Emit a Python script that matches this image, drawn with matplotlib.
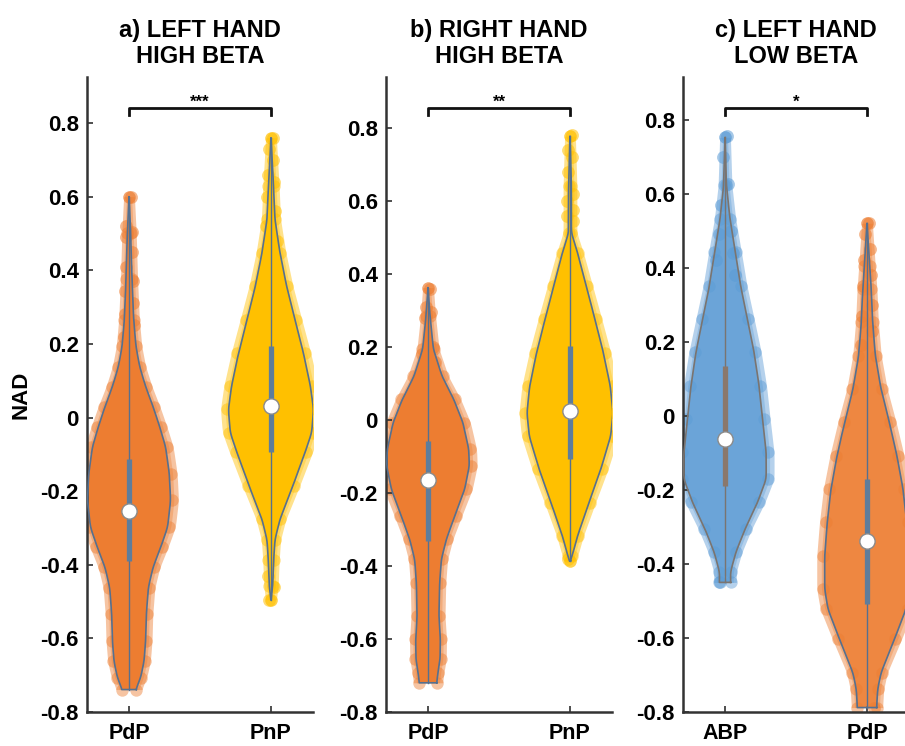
import numpy as np
import matplotlib
matplotlib.use("Agg")
import matplotlib.pyplot as plt
from matplotlib.transforms import blended_transform_factory

plt.rcParams['font.family'] = ['Liberation Sans', 'DejaVu Sans']
plt.rcParams['font.weight'] = 'bold'

# ---------------- data ----------------
titles = ["a) LEFT HAND\nHIGH BETA", "b) RIGHT HAND\nHIGH BETA", "c) LEFT HAND\nLOW BETA"]
group_labels = [["PdP", "PnP"], ["PdP", "PnP"], ["ABP", "PdP"]]
significance = ["***", "**", "*"]
y_label = "NAD"
y_ticks = [-0.8, -0.6, -0.4, -0.2, 0.0, 0.2, 0.4, 0.6, 0.8]
y_tick_labels = ["-0.8", "-0.6", "-0.4", "-0.2", "0", "0.2", "0.4", "0.6", "0.8"]
y_top = [0.925, 0.94, 0.915]

# violin outlines: NAD level -> half width (density profile)
a_pdp_levels = [-0.739, -0.707, -0.662, -0.607, -0.535, -0.462, -0.407, -0.353, -0.298, -0.225,
                -0.153, -0.08, -0.025, 0.029, 0.084, 0.138, 0.193, 0.265, 0.375, 0.50, 0.60]
a_pdp_width = [0.047, 0.082, 0.106, 0.117, 0.122, 0.136, 0.169, 0.223, 0.272, 0.293,
               0.284, 0.258, 0.216, 0.17, 0.117, 0.075, 0.049, 0.033, 0.021, 0.012, 0.0]
a_pdp_stats = [-0.39, -0.255, -0.112]          # q1, median, q3
a_pdp_tail = [0.60, 0.52, 0.505, 0.49, 0.45, 0.41, 0.37, 0.345, 0.31, 0.28, 0.25, 0.22]

a_pnp_levels = [-0.495, -0.458, -0.386, -0.332, -0.277, -0.187, -0.095, -0.041, 0.022, 0.085,
                0.176, 0.266, 0.357, 0.448, 0.538, 0.629, 0.76]
a_pnp_width = [0.0, 0.012, 0.019, 0.028, 0.063, 0.153, 0.24, 0.287, 0.30, 0.278,
               0.228, 0.169, 0.11, 0.063, 0.028, 0.018, 0.0]
a_pnp_stats = [-0.095, 0.031, 0.194]
a_pnp_tail = [0.76, 0.73, 0.70, 0.66, 0.64, 0.60, 0.56, 0.52, 0.48, -0.43, -0.46, -0.495]

b_pdp_levels = [-0.72, -0.692, -0.656, -0.60, -0.537, -0.446, -0.382, -0.327, -0.263, -0.19,
                -0.126, -0.08, -0.007, 0.057, 0.12, 0.194, 0.285, 0.363]
b_pdp_width = [0.061, 0.07, 0.085, 0.087, 0.077, 0.082, 0.094, 0.129, 0.188, 0.258,
               0.291, 0.287, 0.246, 0.181, 0.099, 0.038, 0.014, 0.0]
b_pdp_stats = [-0.331, -0.165, -0.057]
b_pdp_tail = [0.36, 0.31, 0.295, 0.28, 0.20, 0.18, 0.16]

b_pnp_levels = [-0.386, -0.373, -0.318, -0.226, -0.135, -0.044, 0.02, 0.093, 0.185, 0.276,
                0.367, 0.459, 0.513, 0.641, 0.778]
b_pnp_width = [0.0, 0.015, 0.053, 0.134, 0.217, 0.287, 0.303, 0.284, 0.235, 0.176,
               0.115, 0.053, 0.01, 0.01, 0.0]
b_pnp_stats = [-0.108, 0.025, 0.203]
b_pnp_tail = [0.78, 0.74, 0.72, 0.68, 0.62, 0.60, 0.575, 0.56, 0.545, -0.38]

c_abp_levels = [-0.45, -0.423, -0.369, -0.306, -0.234, -0.171, -0.099, -0.009, 0.081, 0.171,
                0.261, 0.351, 0.442, 0.532, 0.622, 0.752]
c_abp_width = [0.04, 0.038, 0.076, 0.141, 0.229, 0.29, 0.29, 0.264, 0.24, 0.205,
               0.158, 0.11, 0.073, 0.035, 0.01, 0.0]
c_abp_stats = [-0.189, -0.063, 0.135]
c_abp_tail = [0.755, 0.70, 0.625, 0.57, 0.50, 0.49, 0.44, 0.42, 0.38, -0.45]

c_pdp_levels = [-0.788, -0.739, -0.694, -0.604, -0.522, -0.468, -0.378, -0.288, -0.198, -0.108,
                -0.018, 0.072, 0.162, 0.252, 0.343, 0.405, 0.52]
c_pdp_width = [0.068, 0.075, 0.099, 0.193, 0.275, 0.298, 0.298, 0.28, 0.254, 0.211,
               0.158, 0.099, 0.059, 0.04, 0.03, 0.019, 0.0]
c_pdp_stats = [-0.509, -0.338, -0.171]
c_pdp_tail = [0.52, 0.49, 0.45, 0.42, 0.38, 0.35, 0.30, 0.27, 0.23, 0.19, -0.79]

# ---------------- styles ----------------
ORANGE = '#ED7D31'
YELLOW = '#FFC000'
BLUE = '#5B9BD5'
EDGE = '#56708F'
BOX = '#5E7D9C'
EDGE_C = '#7A7470'
BOX_C = '#8A786C'

panels = [
    [(a_pdp_levels, a_pdp_width, a_pdp_stats, a_pdp_tail, ORANGE, EDGE, BOX, 1.0),
     (a_pnp_levels, a_pnp_width, a_pnp_stats, a_pnp_tail, YELLOW, EDGE, BOX, 1.0)],
    [(b_pdp_levels, b_pdp_width, b_pdp_stats, b_pdp_tail, ORANGE, EDGE, BOX, 1.0),
     (b_pnp_levels, b_pnp_width, b_pnp_stats, b_pnp_tail, YELLOW, EDGE, BOX, 1.0)],
    [(c_abp_levels, c_abp_width, c_abp_stats, c_abp_tail, BLUE, EDGE_C, BOX_C, 0.72),
     (c_pdp_levels, c_pdp_width, c_pdp_stats, c_pdp_tail, ORANGE, EDGE, BOX, 0.78)],
]


def smooth_profile(levels, widths, n=500, k=21):
    y = np.linspace(levels[0], levels[-1], n)
    w = np.interp(y, levels, widths)
    kern = np.hanning(k)
    kern /= kern.sum()
    wpad = np.pad(w, k // 2, mode='edge')
    ws = np.convolve(wpad, kern, mode='valid')
    ws[-1] = widths[-1]
    return y, ws


fig = plt.figure(figsize=(9.05, 7.46), dpi=100)
ax_left = [87 / 905, 386 / 905, 683 / 905]
ax_w = 226 / 905
ax_b = 1 - 712 / 746
ax_h = (712 - 77) / 746

for p in range(3):
    ax = fig.add_axes([ax_left[p], ax_b, ax_w, ax_h])
    for gi, (lev, wid, st, tail, col, ec, bc, fa) in enumerate(panels[p]):
        c = gi + 1
        y, w = smooth_profile(lev, wid)
        # halo of scattered points
        ax.fill_betweenx(y, c - (w * 1.06 + 0.038), c + (w * 1.06 + 0.038),
                         color=col, alpha=0.45, lw=0, zorder=1)
        ax.fill_betweenx(y, c - (w * 1.02 + 0.018), c + (w * 1.02 + 0.018),
                         color=col, alpha=0.35, lw=0, zorder=1)
        ax.scatter(np.r_[c - np.array(wid) * 1.04, c + np.array(wid) * 1.04], np.r_[lev, lev],
                   s=80, color=col, alpha=0.45, lw=0, zorder=1)
        tw = np.interp(tail, lev, wid)
        sgn = np.where(np.arange(len(tail)) % 2 == 0, 1, -1)
        ax.scatter(c + sgn * (tw * 0.6 + 0.012), tail, s=85, color=col, alpha=0.55, lw=0, zorder=1)
        # violin body
        xs = np.r_[c + w, (c - w)[::-1]]
        ys = np.r_[y, y[::-1]]
        ax.fill(xs, ys, facecolor=col, alpha=fa, edgecolor='none', zorder=2)
        ax.plot(np.r_[xs, xs[0]], np.r_[ys, ys[0]], color=ec, lw=1.2, zorder=3)
        # whisker / box / median
        ax.plot([c, c], [lev[0], lev[-1]], color=ec, lw=1.0, zorder=4)
        ax.plot([c, c], [st[0], st[2]], color=bc, lw=3.8, solid_capstyle='butt', zorder=5)
        ax.plot([c], [st[1]], marker='o', ms=11, mfc='white', mec='#8A8A8A', mew=1.0, zorder=6)

    ax.set_xlim(0.704, 2.296)
    ax.set_ylim(-0.8, y_top[p])
    ax.set_xticks([1, 2])
    ax.set_xticklabels(group_labels[p], fontsize=15.5, fontweight='bold')
    ax.set_yticks(y_ticks)
    ax.set_yticklabels(y_tick_labels, fontsize=16, fontweight='bold')
    ax.tick_params(axis='both', direction='in', length=4, width=1.2, color='#303030')
    ax.tick_params(axis='y', pad=6)
    ax.tick_params(axis='x', pad=8)
    for s in ['top', 'right']:
        ax.spines[s].set_visible(False)
    for s in ['left', 'bottom']:
        ax.spines[s].set_linewidth(1.8)
        ax.spines[s].set_color('#333333')
    ax.set_title(titles[p], fontsize=17, fontweight='bold', pad=10, linespacing=1.15)

    tr = blended_transform_factory(ax.transData, ax.transAxes)
    ax.plot([1, 1, 2, 2], [0.940, 0.951, 0.951, 0.940], color='#111111', lw=2,
            transform=tr, clip_on=False, zorder=7)
    ax.text(1.5, 0.948, significance[p], ha='center', va='bottom', fontsize=12,
            fontweight='bold', transform=tr)
    if p == 0:
        ax.set_ylabel(y_label, fontsize=16, fontweight='bold', labelpad=6)

fig.savefig('out.png', dpi=100)
